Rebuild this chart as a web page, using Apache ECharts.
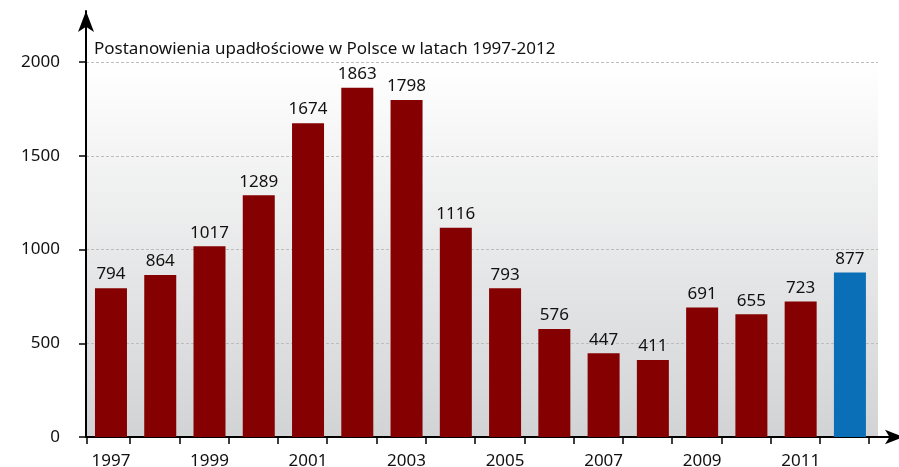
<!DOCTYPE html>
<html><head><meta charset="utf-8">
<script src="https://cdn.jsdelivr.net/npm/echarts@6/dist/echarts.min.js"></script>
<style>html,body{margin:0;padding:0;background:#fff}#c{width:899px;height:467px}</style>
</head><body><div id="c"></div>
<script>
const years = ['1997','1998','1999','2000','2001','2002','2003','2004','2005','2006','2007','2008','2009','2010','2011','2012'];
const values = [794, 864, 1017, 1289, 1674, 1863, 1798, 1116, 793, 576, 447, 411, 691, 655, 723, 877];
const yTicks = [0, 500, 1000, 1500, 2000];
const titleText = 'Postanowienia upadłościowe w Polsce w latach 1997-2012';

const FONT = 'Noto Sans';
const red = '#850000', blue = '#0b6fb8';
const xMin = -0.507, xMax = 15.57, tickOff = 0.39;
const tickVals = [xMin + 0.01].concat(years.map((y, i) => i + tickOff));
const labelVals = years.map((y, i) => i).filter(i => i % 2 === 0);

const chart = echarts.init(document.getElementById('c'), null, {renderer: 'canvas'});
chart.setOption({
  animation: false,
  textStyle: {fontFamily: FONT},
  title: {text: titleText, left: 89, top: 36,
    textStyle: {fontFamily: FONT, fontSize: 17, fontWeight: 'normal', color: '#111'}},
  grid: [
    {left: 86, top: 62, width: 792, height: 375, show: true, borderWidth: 0,
     outerBoundsMode: 'none', containLabel: false,
     backgroundColor: new echarts.graphic.LinearGradient(0, 0, 0, 1, [
       {offset: 0, color: '#ffffff'}, {offset: 1, color: '#d2d3d5'}])},
    {left: 86, top: 11, right: -4, bottom: 30, outerBoundsMode: 'none', containLabel: false}
  ],
  xAxis: [
    {type: 'value', gridIndex: 0, min: xMin, max: xMax,
     axisLine: {show: false, onZero: false},
     axisTick: {show: true, customValues: tickVals, length: 7, inside: false,
       lineStyle: {color: '#000', width: 1.5}},
     axisLabel: {customValues: labelVals, formatter: v => years[Math.round(v)] || '',
       fontSize: 17, color: '#111', margin: 16, fontFamily: FONT},
     splitLine: {show: false}},
    {type: 'value', gridIndex: 1, min: 0, max: 1,
     axisLine: {show: true, onZero: false, symbol: ['none', 'arrow'], symbolSize: [11, 18],
       lineStyle: {color: '#000', width: 2}},
     axisTick: {show: false}, axisLabel: {show: false}, splitLine: {show: false}}
  ],
  yAxis: [
    {type: 'value', gridIndex: 0, min: 0, max: 2000, interval: 500,
     axisLine: {show: false, onZero: false},
     axisTick: {show: true, length: 7, lineStyle: {color: '#000', width: 1.5}},
     axisLabel: {fontSize: 17, color: '#111', margin: 26, fontFamily: FONT,
       formatter: v => yTicks.includes(v) ? String(v) : ''},
     splitLine: {show: true, lineStyle: {color: '#bdbdbd', type: [3, 2], width: 1}}},
    {type: 'value', gridIndex: 1, min: 0, max: 1,
     axisLine: {show: true, onZero: false, symbol: ['none', 'arrow'], symbolSize: [12, 21],
       lineStyle: {color: '#000', width: 2}},
     axisTick: {show: false}, axisLabel: {show: false}, splitLine: {show: false}}
  ],
  series: [{
    type: 'bar', xAxisIndex: 0, yAxisIndex: 0, barWidth: 32,
    data: values.map((v, i) => ({value: [i, v],
      itemStyle: {color: i === values.length - 1 ? blue : red}})),
    label: {show: true, position: 'top', distance: 5, fontSize: 17, color: '#111',
      fontFamily: FONT, formatter: p => String(p.value[1])}
  }]
});
</script></body></html>
